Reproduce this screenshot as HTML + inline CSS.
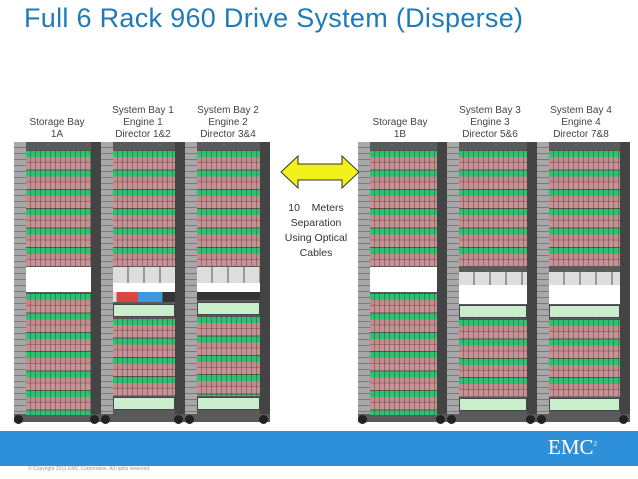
<!DOCTYPE html>
<html><head><meta charset="utf-8"><style>
*{margin:0;padding:0;box-sizing:border-box}
body{width:638px;height:479px;background:#fff;position:relative;overflow:hidden;font-family:"Liberation Sans",sans-serif}
.t{position:absolute;left:24px;top:3px;font-size:27px;color:#1f7ab8;white-space:nowrap;letter-spacing:0.3px}
.lbl{position:absolute;font-size:10px;color:#444;text-align:center;line-height:12px;white-space:nowrap}
.rack{position:absolute;top:142px;height:280px;background:#5a5a5a}
.rl{position:absolute;left:0;top:0;width:12px;height:272px;background:repeating-linear-gradient(to bottom,#a8a8a8 0 5px,#7a7a7a 5px 6px)}
.rr{position:absolute;right:0;top:0;width:10px;height:272px;background:#444}
.u{position:absolute;left:12px;right:10px;background:
 repeating-linear-gradient(to right,transparent 0 4px,rgba(0,60,30,.35) 4px 5px),
 repeating-linear-gradient(to bottom,#555 0 1px,#30c070 1px 7px,#c48a8e 7px 12px,#a86a70 12px 13px,#c99095 13px 19.4px)}
.w{position:absolute;left:12px;right:10px;background:#fff}
.eng{position:absolute;left:12px;right:10px;background:repeating-linear-gradient(to right,#ddd 0 14px,#999 14px 16px)}
.gp{position:absolute;left:12px;right:10px;background:#c9eec9;border:1px solid #445}
.bar{position:absolute;left:12px;right:10px}
.ft{position:absolute;bottom:-2px;width:9px;height:9px;border-radius:50%;background:#222}
.band{position:absolute;left:0;top:431px;width:638px;height:35px;background:#2e90d8}
.emc{position:absolute;left:548px;top:435px;font-family:"Liberation Serif",serif;font-size:21px;color:#fff}
.cp{position:absolute;left:28px;top:466px;font-size:5px;color:#999}
</style></head><body>
<div class="t">Full 6 Rack 960 Drive System (Disperse)</div>

<div class="lbl" style="left:22px;top:117px;width:70px">Storage Bay<br>1A</div>
<div class="lbl" style="left:105px;top:105px;width:76px">System Bay 1<br>Engine 1<br>Director 1&amp;2</div>
<div class="lbl" style="left:190px;top:105px;width:76px">System Bay 2<br>Engine 2<br>Director 3&amp;4</div>
<div class="lbl" style="left:362px;top:117px;width:76px">Storage Bay<br>1B</div>
<div class="lbl" style="left:452px;top:105px;width:76px">System Bay 3<br>Engine 3<br>Director 5&amp;6</div>
<div class="lbl" style="left:543px;top:105px;width:76px">System Bay 4<br>Engine 4<br>Director 7&amp;8</div>

<div class="rack" style="left:14px;width:87px">
<div class="rl"></div><div class="rr"></div>
<div class="u" style="top:8px;height:116px"></div>
<div class="w" style="top:125px;height:25px"></div>
<div class="u" style="top:151px;height:122px"></div>
<div class="ft" style="left:0"></div><div class="ft" style="right:2px"></div>
</div>
<div class="rack" style="left:101px;width:84px">
<div class="rl"></div><div class="rr"></div>
<div class="u" style="top:8px;height:116px"></div>
<div class="eng" style="top:125px;height:16px"></div>
<div class="w" style="top:141px;height:9px"></div>
<div class="bar" style="top:150px;height:10px;background:linear-gradient(to right,#ddd 0 6%,#d44 6% 40%,#3a9ae0 40% 80%,#333 80%)"></div>
<div class="gp" style="top:162px;height:13px"></div>
<div class="u" style="top:176px;height:78px"></div>
<div class="gp" style="top:255px;height:13px"></div>
<div class="ft" style="left:0"></div><div class="ft" style="right:2px"></div>
</div>
<div class="rack" style="left:185px;width:85px">
<div class="rl"></div><div class="rr"></div>
<div class="u" style="top:8px;height:116px"></div>
<div class="eng" style="top:125px;height:16px"></div>
<div class="w" style="top:141px;height:9px"></div>
<div class="bar" style="top:150px;height:8px;background:#333"></div>
<div class="gp" style="top:160px;height:13px"></div>
<div class="u" style="top:174px;height:80px"></div>
<div class="gp" style="top:255px;height:13px"></div>
<div class="ft" style="left:0"></div><div class="ft" style="right:2px"></div>
</div>

<div class="rack" style="left:358px;width:89px">
<div class="rl"></div><div class="rr"></div>
<div class="u" style="top:8px;height:116px"></div>
<div class="w" style="top:125px;height:25px"></div>
<div class="u" style="top:151px;height:122px"></div>
<div class="ft" style="left:0"></div><div class="ft" style="right:2px"></div>
</div>
<div class="rack" style="left:447px;width:90px">
<div class="rl"></div><div class="rr"></div>
<div class="u" style="top:8px;height:116px"></div>
<div class="eng" style="top:130px;height:13px"></div>
<div class="w" style="top:143px;height:19px"></div>
<div class="gp" style="top:163px;height:13px"></div>
<div class="u" style="top:177px;height:78px"></div>
<div class="gp" style="top:256px;height:13px"></div>
<div class="ft" style="left:0"></div><div class="ft" style="right:2px"></div>
</div>
<div class="rack" style="left:537px;width:93px">
<div class="rl"></div><div class="rr"></div>
<div class="u" style="top:8px;height:116px"></div>
<div class="eng" style="top:130px;height:13px"></div>
<div class="w" style="top:143px;height:19px"></div>
<div class="gp" style="top:163px;height:13px"></div>
<div class="u" style="top:177px;height:78px"></div>
<div class="gp" style="top:256px;height:13px"></div>
<div class="ft" style="left:0"></div><div class="ft" style="right:2px"></div>
</div>

<svg style="position:absolute;left:280px;top:155px" width="80" height="34">
<polygon points="1,17 18,1 18,9 62,9 62,1 79,17 62,33 62,25 18,25 18,33" fill="#f2f21a" stroke="#333" stroke-width="1"/>
</svg>
<div class="lbl" style="left:276px;top:201px;width:80px;font-size:10.5px;line-height:15px;text-align:center;color:#333">10&nbsp;&nbsp;&nbsp;&nbsp;Meters<br>Separation<br>Using Optical<br>Cables</div>

<div class="band"></div>
<div class="emc">EMC<sup style="font-size:7px">2</sup></div>
<div class="cp">© Copyright 2011 EMC Corporation. All rights reserved.</div>
</body></html>
